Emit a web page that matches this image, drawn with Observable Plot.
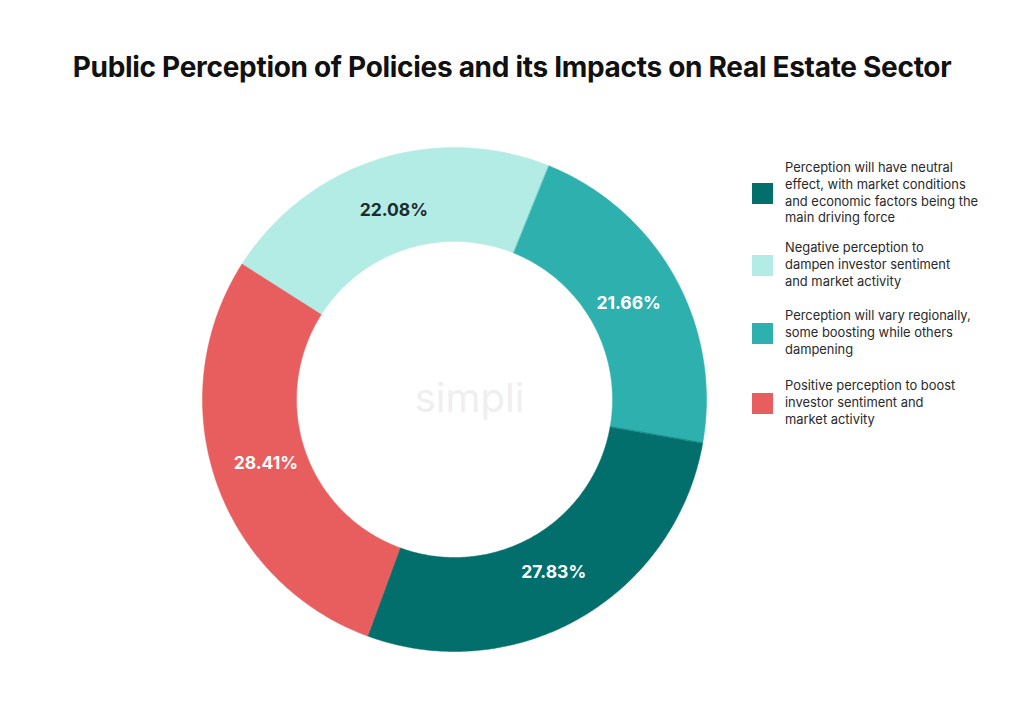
<!DOCTYPE html>
<html>
<head>
<meta charset="utf-8">
<script src="https://cdn.jsdelivr.net/npm/d3@7"></script>
<script src="https://cdn.jsdelivr.net/npm/@observablehq/plot@0.6"></script>
<style>
  html, body { margin: 0; padding: 0; background: #ffffff; }
  #page { position: relative; width: 1024px; height: 708px; overflow: hidden; font-family: Inter, "Noto Sans", sans-serif; }
  #title { height: 120px; box-sizing: border-box; padding-top: 50px; text-align: center; font-size: 28px; font-weight: 700; color: #111111; line-height: 34px; letter-spacing: -0.3px; }
  #legend { position: absolute; left: 752px; top: 160px; width: 260px; }
  .item { position: absolute; left: 0; width: 260px; }
  .sw { position: absolute; left: 0; width: 21px; height: 21px; }
  .lt { position: absolute; left: 33px; width: 230px; font-size: 12.9px; line-height: 16.8px; color: #2a2a2a; white-space: nowrap; }
</style>
</head>
<body>
<div id="page">
  <div id="title">Public Perception of Policies and its Impacts on Real Estate Sector</div>
  <div id="chart"></div>
  <div id="legend"></div>
</div>
<script>
// ---- data ----
const categories = [
  "Negative perception to dampen investor sentiment and market activity",
  "Perception will vary regionally, some boosting while others dampening",
  "Perception will have neutral effect, with market conditions and economic factors being the main driving force",
  "Positive perception to boost investor sentiment and market activity"
];
const legendLines = [
  ["Negative perception to", "dampen investor sentiment", "and market activity"],
  ["Perception will vary regionally,", "some boosting while others", "dampening"],
  ["Perception will have neutral", "effect, with market conditions", "and economic factors being the", "main driving force"],
  ["Positive perception to boost", "investor sentiment and", "market activity"]
];
const values = [22.08, 21.66, 27.83, 28.41];
const colors = ["#b2ece5", "#2eb0ae", "#036f6c", "#e85d5d"];
const labelColors = ["#1d2b2b", "#ffffff", "#ffffff", "#ffffff"];
const legendOrder = [2, 0, 1, 3];
const watermark = "simpli";

// ---- geometry from data via d3.pie ----
const outerR = 1;
const innerR = 158 / 252;
const startAngle = -57.5 * Math.PI / 180;
const pie = d3.pie().sort(null).value(d => d.value)
  .startAngle(startAngle).endAngle(startAngle + 2 * Math.PI);
const rows = categories.map((c, i) => ({category: c, value: values[i], color: colors[i], labelColor: labelColors[i]}));
const arcs = pie(rows);

function ring(a0, a1) {
  const n = Math.max(8, Math.ceil((a1 - a0) / 0.01));
  const outer = d3.range(n + 1).map(k => {
    const a = a0 + (a1 - a0) * k / n;
    return [outerR * Math.sin(a), -outerR * Math.cos(a)];
  });
  const inner = d3.range(n + 1).map(k => {
    const a = a1 - (a1 - a0) * k / n;
    return [innerR * Math.sin(a), -innerR * Math.cos(a)];
  });
  const coords = outer.concat(inner);
  coords.push(coords[0]);
  return coords;
}

const features = arcs.map(a => ({
  type: "Feature",
  properties: a.data,
  geometry: {type: "Polygon", coordinates: [ring(a.startAngle, a.endAngle)]}
}));

const labelR = 0.79;
const labels = arcs.map(a => {
  const m = (a.startAngle + a.endAngle) / 2;
  return {x: labelR * Math.sin(m), y: -labelR * Math.cos(m), text: a.data.value.toFixed(2) + "%", color: a.data.labelColor};
});

const domain = {type: "MultiPoint", coordinates: [[-outerR, -outerR], [outerR, outerR]]};

const chart = Plot.plot({
  width: 1024,
  height: 588,
  margin: 0,
  projection: {type: "identity", domain, insetLeft: 202, insetRight: 318, insetTop: 27, insetBottom: 57},
  marks: [
    Plot.geo(features, {fill: d => d.properties.color, stroke: d => d.properties.color, strokeWidth: 0.5}),
    Plot.text([watermark], {x: () => 0.06, y: () => 0, text: d => d, fill: "#efefef", fontSize: 40, fontWeight: 400, fontFamily: "Inter, sans-serif"}),
    Plot.text(labels, {x: "x", y: "y", text: "text", fill: "color", fontSize: 17.5, fontWeight: 700, fontFamily: "Inter, sans-serif"})
  ]
});
document.getElementById("chart").appendChild(chart);

// ---- legend ----
const legendTops = [0, 80, 148, 218];
const legend = document.getElementById("legend");
legendOrder.forEach((idx, j) => {
  const item = document.createElement("div");
  item.className = "item";
  item.style.top = legendTops[j] + "px";
  const lt = document.createElement("div");
  lt.className = "lt";
  legendLines[idx].forEach((line, k) => {
    if (k) lt.appendChild(document.createElement("br"));
    lt.appendChild(document.createTextNode(line));
  });
  const sw = document.createElement("div");
  sw.className = "sw";
  sw.style.background = colors[idx];
  item.appendChild(sw);
  item.appendChild(lt);
  legend.appendChild(item);
  const h = lt.getBoundingClientRect().height;
  sw.style.top = (h / 2 - 10.5) + "px";
});
</script>
</body>
</html>
